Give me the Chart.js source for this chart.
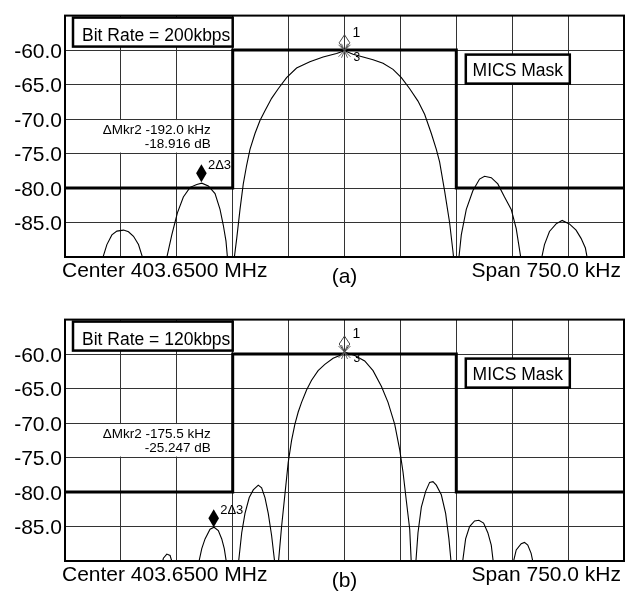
<!DOCTYPE html>
<html>
<head>
<meta charset="utf-8">
<title>MICS spectrum</title>
<script src="https://cdn.jsdelivr.net/npm/chart.js@4.4.0/dist/chart.umd.min.js"></script>
<style>
  body { margin: 0; background: #fff; }
  .panel { position: absolute; left: 0; width: 636px; }
  #panelA { top: 0; height: 300px; }
  #panelB { top: 304px; height: 291px; }
</style>
</head>
<body>
<div class="panel" id="panelA"><canvas id="chartA"></canvas></div>
<div class="panel" id="panelB"><canvas id="chartB"></canvas></div>
<script>
// analyzer settings
const centerMHz = 403.65;
const spanKHz = 750;
const levelTicks = [-60, -65, -70, -75, -80, -85];
const levelTickLabels = ['-60.0', '-65.0', '-70.0', '-75.0', '-80.0', '-85.0'];

// MICS emission mask (kHz offset, dBm)
const maskFreq = [-375, -150, -150, 150, 150, 375];
const maskLevel = [-80, -80, -60, -60, -80, -80];

// (a) 200 kbps trace, -100 marks where the trace drops below the screen
const traceFreqA = [
  -325.4, -318.8, -312.1, -305.4, -296.5, -289.8, -283.1, -276.4, -269.7,
  -262.0,
  -239.3, -231.7, -224.2, -216.2, -207.2, -198.2, -191.5, -182.7, -173.7, -167.0, -162.6, -159.0, -156.7,
  -152.3,
  -148.3, -144.6, -140.2, -135.8, -131.3, -126.8, -120.1, -113.4, -106.7, -97.8, -88.9, -77.7, -64.3, -46.5, -28.7, -10.7, 0,
  11.5, 24.9, 38.3, 51.7, 65.1, 76.3, 87.5, 98.6, 107.5, 116.5, 123.2, 127.6, 134.3, 141.0, 145.4, 146.8,
  149.7,
  153.1, 156.7, 163.4, 172.2, 181.2, 187.9, 196.9, 205.7, 214.7, 223.7, 230.4, 237.1,
  249.5,
  263.8, 268.3, 275.0, 283.9, 292.0, 301.7, 310.7, 317.4, 323.2, 326.3,
  342.0
];
const traceLevelA = [
  -90.5, -88.2, -86.8, -86.25, -86.1, -86.35, -87.0, -88.2, -90.5,
  -100,
  -90.5, -86.8, -83.6, -81.3, -79.9, -79.5, -79.3, -79.7, -80.8, -83.1, -85.4, -87.7, -90.5,
  -100,
  -90.5, -87.3, -83.1, -79.4, -76.7, -74.4, -72.1, -70.2, -68.8, -67.0, -65.6, -64.0, -62.6, -61.7, -61.0, -60.5, -60.1,
  -60.6, -61.0, -61.4, -61.9, -62.8, -64.0, -65.6, -67.4, -69.3, -72.1, -74.4, -76.2, -80.4, -85.0, -89.1, -90.5,
  -100,
  -90.5, -86.8, -83.1, -80.4, -78.7, -78.3, -78.5, -79.4, -81.3, -83.1, -85.9, -90.5,
  -100,
  -90.5, -88.2, -86.3, -85.2, -84.7, -85.2, -86.1, -87.3, -88.7, -90.5,
  -100
];
const markerRefA = [0, -60.1];          // marker 1 / 3 at the peak
const markerDeltaA = [-192.0, -18.916]; // marker 2 relative to 3

// (b) 120 kbps trace
const traceFreqB = [
  -245.1, -243.0, -238.4, -234.0, -230.4,
  -213.9,
  -196.1, -191.5, -187.1, -180.4, -175.0, -169.3, -164.7, -161.3, -158.0,
  -150.3,
  -142.5, -137.9, -133.5, -127.8, -122.4, -115.7, -111.2, -106.7, -102.3, -97.8, -93.3,
  -91.1,
  -88.9, -84.4, -80.0, -75.5, -71.0, -66.6, -62.1, -57.6, -50.9, -44.2, -35.4, -26.4, -15.3, -4.0, 0,
  13.8, 27.1, 38.3, 49.6, 58.4, 67.4, 74.1, 78.5, 83.0, 87.5, 89.7,
  92.5,
  95.5, 98.6, 103.1, 108.9, 114.2, 118.7, 123.2, 129.9, 135.7, 140.1, 143.3,
  150.4,
  158.0, 162.5, 167.8, 174.5, 180.3, 186.6, 192.3, 196.9, 200.0,
  212.7,
  225.8, 230.4, 237.1, 241.5, 245.9, 250.4, 253.5,
  270.0
];
const traceLevelB = [
  -90.5, -89.6, -89.0, -89.2, -90.5,
  -100,
  -90.5, -88.2, -86.8, -85.4, -85.1, -85.6, -86.8, -88.2, -90.5,
  -100,
  -90.5, -85.9, -83.1, -80.8, -79.7, -79.0, -79.4, -80.8, -83.1, -86.3, -90.5,
  -100,
  -90.5, -85.0, -80.4, -75.7, -72.5, -70.2, -68.4, -67.0, -65.2, -63.8, -62.4, -61.5, -60.6, -60.1, -59.7,
  -60.2, -61.0, -62.4, -64.7, -67.0, -70.2, -73.9, -77.1, -81.3, -85.4, -90.5,
  -100,
  -90.5, -85.9, -82.2, -79.9, -78.6, -78.5, -79.0, -80.4, -83.1, -86.8, -90.5,
  -100,
  -90.5, -86.8, -85.0, -84.2, -84.1, -84.5, -85.9, -87.7, -90.5,
  -100,
  -90.5, -88.4, -87.5, -87.3, -87.7, -88.9, -90.5,
  -100
];
const markerRefB = [0, -59.7];
const markerDeltaB = [-175.5, -25.247];

const FONT = '"Liberation Sans", Arial, Helvetica, sans-serif';
const GRID = '#333';

function toPoints(xs, ys) {
  return xs.map((v, i) => ({ x: v, y: ys[i] }));
}

function diamond(ctx, x, yTip, halfW, h) {
  ctx.beginPath();
  ctx.moveTo(x, yTip);
  ctx.lineTo(x - halfW, yTip - h / 2);
  ctx.lineTo(x, yTip - h);
  ctx.lineTo(x + halfW, yTip - h / 2);
  ctx.closePath();
}

// boxes, marker readout and analyzer footer for one screen
function decor(p) {
  return {
    id: 'decor',
    beforeDatasetsDraw(chart) {
      const { ctx, chartArea: a, scales: { x, y } } = chart;
      const top = y.getPixelForValue(-70) + 1;
      const bot = y.getPixelForValue(-75) - 1;
      ctx.save();
      ctx.fillStyle = '#fff';
      ctx.fillRect(a.left + 1, top, x.getPixelForValue(-150) - a.left - 2.5, bot - top);
      ctx.restore();
    },
    afterDraw(chart) {
      const { ctx, chartArea: a, scales: { x, y } } = chart;
      ctx.save();

      ctx.strokeStyle = '#000';
      ctx.lineWidth = 2;
      ctx.strokeRect(a.left, a.top, a.right - a.left, a.bottom - a.top);

      // bit rate box
      const bx0 = a.left + 8, bx1 = x.getPixelForValue(-150);
      const by0 = a.top + 2, by1 = y.getPixelForValue(-60) - 3.5;
      ctx.fillStyle = '#fff';
      ctx.fillRect(bx0, by0, bx1 - bx0, by1 - by0);
      ctx.lineWidth = 2.5;
      ctx.strokeRect(bx0, by0, bx1 - bx0, by1 - by0);
      ctx.fillStyle = '#000';
      ctx.font = '17.5px ' + FONT;
      ctx.textAlign = 'left';
      ctx.textBaseline = 'alphabetic';
      ctx.fillText(p.bitRate, bx0 + 9, a.top + 25.3);

      // mask legend box
      const mx0 = x.getPixelForValue(150) + 9.5, mx1 = mx0 + 104;
      const my0 = a.top + 39, my1 = a.top + 68;
      ctx.fillStyle = '#fff';
      ctx.fillRect(mx0, my0, mx1 - mx0, my1 - my0);
      ctx.strokeRect(mx0, my0, mx1 - mx0, my1 - my0);
      ctx.fillStyle = '#000';
      ctx.textAlign = 'center';
      ctx.fillText('MICS Mask', (mx0 + mx1) / 2, a.top + 60);

      // delta marker readout
      ctx.font = '13.5px ' + FONT;
      ctx.textAlign = 'right';
      const rx = x.getPixelForValue(-150) - 22;
      const ry = y.getPixelForValue(-70);
      ctx.fillText('\u0394Mkr2 ' + p.delta[0].toFixed(1) + ' kHz', rx, ry + 14.5);
      ctx.fillText(p.delta[1].toFixed(3) + ' dB', rx, ry + 28.5);

      // markers 1 and 3 on the peak
      const refX = x.getPixelForValue(p.ref[0]);
      const refY = y.getPixelForValue(p.ref[1]);
      ctx.strokeStyle = '#666';
      ctx.lineWidth = 1;
      ctx.beginPath();
      [[-6, -6, 6, 6], [6, -6, -6, 6], [-3, -7, 3, 7], [3, -7, -3, 7]].forEach(s => {
        ctx.moveTo(refX + s[0], refY + s[1]);
        ctx.lineTo(refX + s[2], refY + s[3]);
      });
      ctx.stroke();
      diamond(ctx, refX, refY, 5.3, 16);
      ctx.strokeStyle = '#444';
      ctx.stroke();
      ctx.textAlign = 'left';
      ctx.font = '14px ' + FONT;
      ctx.fillText('1', refX + 8, refY - 14);
      ctx.font = '12px ' + FONT;
      ctx.fillText('3', refX + 9, refY + 10);

      // marker 2, placed by its delta from marker 3
      const m2X = x.getPixelForValue(p.ref[0] + p.delta[0]);
      const m2Y = y.getPixelForValue(p.ref[1] + p.delta[1]);
      diamond(ctx, m2X, m2Y + 1, 5.3, 18);
      ctx.fill();
      ctx.font = '13px ' + FONT;
      ctx.fillText('2\u03943', m2X + 6.5, m2Y - 12);

      // footer
      ctx.font = '21px ' + FONT;
      ctx.textAlign = 'left';
      ctx.fillText('Center ' + centerMHz.toFixed(4) + ' MHz', a.left - 3, a.bottom + 20);
      ctx.textAlign = 'right';
      ctx.fillText('Span ' + spanKHz.toFixed(1) + ' kHz', a.right - 3, a.bottom + 20);
      ctx.textAlign = 'center';
      ctx.fillText(p.caption, x.getPixelForValue(0), a.bottom + 25.5);

      ctx.restore();
    }
  };
}

function makePanel(id, p) {
  return new Chart(document.getElementById(id), {
    type: 'line',
    data: {
      datasets: [
        {
          label: 'MICS Mask',
          data: toPoints(maskFreq, maskLevel),
          borderColor: '#000',
          borderWidth: 3,
          borderJoinStyle: 'miter',
          pointRadius: 0,
          tension: 0
        },
        {
          label: p.bitRate,
          data: toPoints(p.freq, p.level),
          borderColor: '#000',
          borderWidth: 1.1,
          pointRadius: 0,
          tension: 0
        }
      ]
    },
    options: {
      responsive: true,
      maintainAspectRatio: false,
      animation: false,
      layout: { padding: { top: 4, right: 12, left: 0, bottom: 0 } },
      plugins: { legend: { display: false }, tooltip: { enabled: false } },
      scales: {
        x: {
          type: 'linear',
          min: -spanKHz / 2,
          max: spanKHz / 2,
          ticks: { display: false, stepSize: spanKHz / 10 },
          grid: { color: GRID, lineWidth: 1, drawTicks: false },
          border: { display: false },
          afterFit: s => { s.height = p.footer; }
        },
        y: {
          min: -90,
          max: -55,
          ticks: {
            stepSize: 5,
            padding: 3,
            labelOffset: 2,
            color: '#000',
            font: { family: FONT, size: 21 },
            callback: v => {
              const i = levelTicks.indexOf(v);
              return i < 0 ? '' : levelTickLabels[i];
            }
          },
          grid: { color: GRID, lineWidth: 1, drawTicks: false },
          border: { display: false },
          afterFit: s => { s.width = 65; }
        }
      }
    },
    plugins: [decor(p)]
  });
}

makePanel('chartA', {
  bitRate: 'Bit Rate = 200kbps', caption: '(a)',
  freq: traceFreqA, level: traceLevelA,
  ref: markerRefA, delta: markerDeltaA, footer: 43
});
makePanel('chartB', {
  bitRate: 'Bit Rate = 120kbps', caption: '(b)',
  freq: traceFreqB, level: traceLevelB,
  ref: markerRefB, delta: markerDeltaB, footer: 34
});
</script>
</body>
</html>
